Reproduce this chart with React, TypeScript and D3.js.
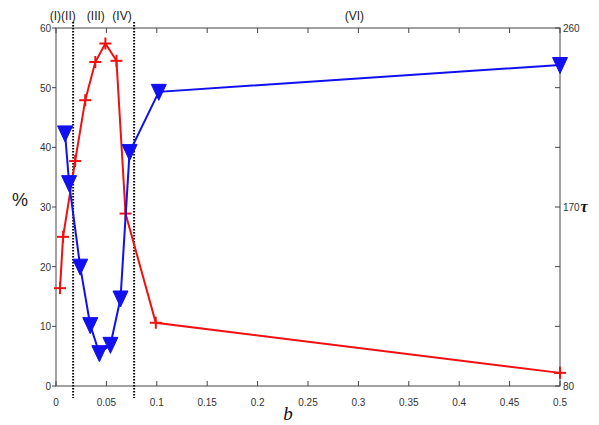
import React from "react";
import * as d3 from "d3";

const xTicks = [0, 0.05, 0.1, 0.15, 0.2, 0.25, 0.3, 0.35, 0.4, 0.45, 0.5];
const xTickLabels = ["0", "0.05", "0.1", "0.15", "0.2", "0.25", "0.3", "0.35", "0.4", "0.45", "0.5"];
const yTicks = [0, 10, 20, 30, 40, 50, 60];
const tauTicks = [80, 110, 140, 170, 200, 230, 260];
const tauTickLabels = ["80", "", "", "170", "", "", "260"];

const xRed = [0.004, 0.007, 0.019, 0.029, 0.039, 0.049, 0.06, 0.069, 0.099, 0.5];
const yRed = [16.4, 25.0, 37.7, 47.9, 54.3, 57.4, 54.5, 28.9, 10.6, 2.2];
const xBlue = [0.009, 0.013, 0.024, 0.034, 0.043, 0.054, 0.064, 0.073, 0.102, 0.5];
const tauBlue = [207, 182, 140, 110.6, 96.5, 100.7, 124, 197.6, 227.9, 241.4];

const regionBounds = [0.017, 0.0775];
const regionLabels = [
  { t: "(I)(II)", x: 0.0067 },
  { t: "(III)", x: 0.0395 },
  { t: "(IV)", x: 0.0655 },
  { t: "(VI)", x: 0.296 },
];

const W = 599, H = 425;
const M = { left: 56, right: 39, top: 28, bottom: 39 };

export default function App() {
  const x = d3.scaleLinear().domain([0, 0.5]).range([M.left, W - M.right]);
  const y = d3.scaleLinear().domain([0, 60]).range([H - M.bottom, M.top]);
  const yR = d3.scaleLinear().domain([80, 260]).range([H - M.bottom, M.top]);
  const x0 = M.left, x1 = W - M.right, y0 = H - M.bottom, y1 = M.top;

  const red = xRed.map((v, i) => [x(v), y(yRed[i])] as [number, number]);
  const blue = xBlue.map((v, i) => [x(v), yR(tauBlue[i])] as [number, number]);
  const line = d3.line();
  const axisColor = "#444";
  const tickFont = "'Liberation Sans Narrow', 'Liberation Sans', Arial, sans-serif";
  const RED = "#f01010";
  const BLUE = "#1010f0";

  return (
    <svg width={W} height={H} style={{ position: "fixed", left: 0, top: 0, background: "#fff" }}>
      <rect x={0} y={0} width={W} height={H} fill="#fff" />
      <rect x={x0} y={y1} width={x1 - x0} height={y0 - y1} fill="none" stroke={axisColor} strokeWidth={1} />
      {xTicks.map((t, i) => (
        <g key={"xt" + i}>
          <line x1={x(t)} x2={x(t)} y1={y0} y2={y0 - 5} stroke={axisColor} />
          <line x1={x(t)} x2={x(t)} y1={y1} y2={y1 + 5} stroke={axisColor} />
          <text x={x(t)} y={y0 + 20} textAnchor="middle" fontFamily={tickFont} fontSize={10} fill="#333">
            {xTickLabels[i]}
          </text>
        </g>
      ))}
      {yTicks.map((t, i) => (
        <g key={"yt" + i}>
          <line x1={x0} x2={x0 - 4} y1={y(t)} y2={y(t)} stroke={axisColor} />
          <text x={x0 - 5} y={y(t) + 4} textAnchor="end" fontFamily={tickFont} fontSize={10} fill="#333">
            {t}
          </text>
        </g>
      ))}
      {tauTicks.map((t, i) => (
        <g key={"rt" + i}>
          <line x1={x1} x2={x1 - 5} y1={yR(t)} y2={yR(t)} stroke={axisColor} />
          {tauTickLabels[i] && (
            <text x={x1 + 3} y={yR(t) + 4} textAnchor="start" fontFamily={tickFont} fontSize={10} fill="#333">
              {tauTickLabels[i]}
            </text>
          )}
        </g>
      ))}
      {regionBounds.map((b, i) => (
        <line key={"rb" + i} x1={x(b)} x2={x(b)} y1={y1 - 6} y2={y0 + 12} stroke="#000" strokeWidth={2} strokeDasharray="1.5,1.5" />
      ))}
      {regionLabels.map((r, i) => (
        <text key={"rl" + i} x={x(r.x)} y={20} textAnchor="middle" fontFamily="'Liberation Sans', Arial, sans-serif" fontSize={12} fill="#222">
          {r.t}
        </text>
      ))}
      <path d={line(red) || ""} fill="none" stroke={RED} strokeWidth={2} />
      {red.map(([px, py], i) => (
        <g key={"r" + i} stroke={RED} strokeWidth={2}>
          <line x1={px - 6} x2={px + 6} y1={py} y2={py} />
          <line x1={px} x2={px} y1={py - 6} y2={py + 6} />
        </g>
      ))}
      <path d={line(blue) || ""} fill="none" stroke={BLUE} strokeWidth={2} />
      {blue.map(([px, py], i) => (
        <path key={"b" + i} d={`M${px - 7.5},${py - 7.5}L${px + 7.5},${py - 7.5}L${px},${py + 8.5}Z`} fill={BLUE} stroke={BLUE} strokeWidth={1} />
      ))}
      <text x={20} y={206} textAnchor="middle" fontFamily="'Liberation Sans', Arial, sans-serif" fontSize={18} fill="#222">%</text>
      <text x={584} y={212} textAnchor="middle" fontFamily="'Liberation Serif', 'Times New Roman', serif" fontStyle="italic" fontWeight="bold" fontSize={16} fill="#111">τ</text>
      <text x={288} y={420} textAnchor="middle" fontFamily="'Liberation Serif', 'Times New Roman', serif" fontStyle="italic" fontSize={19} fill="#111">b</text>
    </svg>
  );
}
